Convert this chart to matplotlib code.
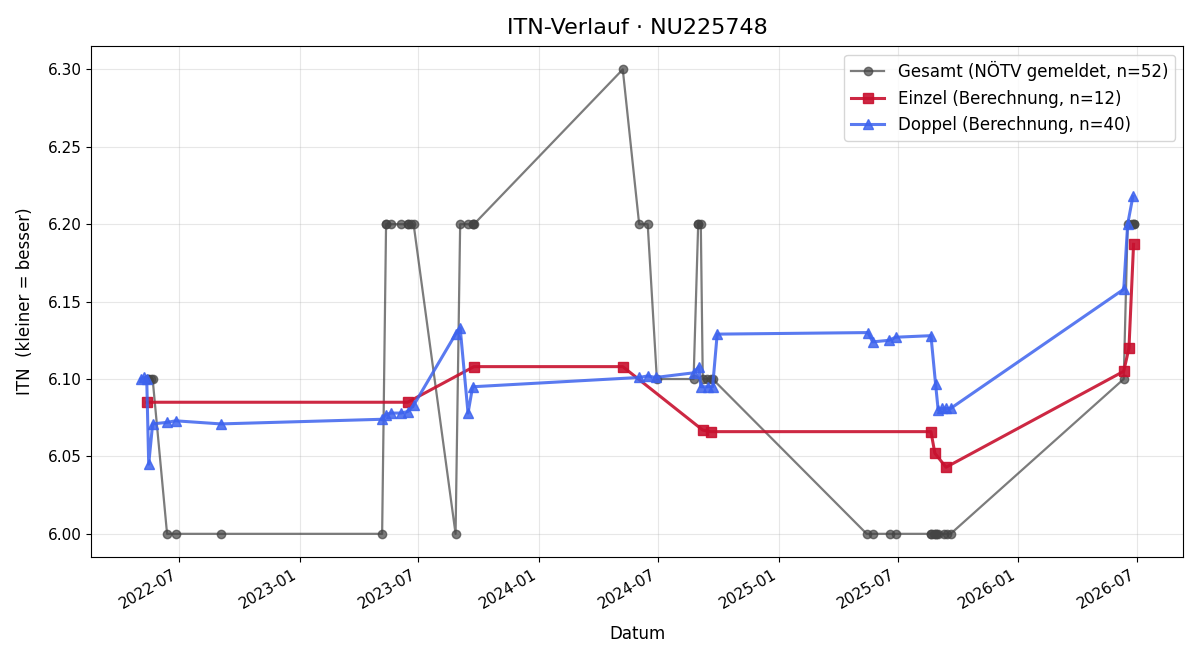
import pandas as pd
import matplotlib.pyplot as plt
import matplotlib.dates as mdates

# Gesamt (gemeldet)
gesamt_dates = [
    "2022-05-15", "2022-05-15", "2022-05-19", "2022-05-22", "2022-06-13", "2022-06-26",
    "2022-09-03", "2023-05-07", "2023-05-13", "2023-05-13", "2023-05-20", "2023-06-05",
    "2023-06-15", "2023-06-15", "2023-06-20", "2023-06-24", "2023-08-27", "2023-09-03",
    "2023-09-15", "2023-09-22", "2023-09-22", "2023-09-24", "2024-05-08", "2024-06-02",
    "2024-06-15", "2024-06-29", "2024-08-24", "2024-08-31", "2024-08-31", "2024-09-04",
    "2024-09-07", "2024-09-13", "2024-09-19", "2024-09-22", "2025-05-15", "2025-05-24",
    "2025-06-19", "2025-06-28", "2025-08-21", "2025-08-21", "2025-08-25", "2025-08-28",
    "2025-08-28", "2025-09-01", "2025-09-10", "2025-09-14", "2025-09-20", "2026-06-11",
    "2026-06-17", "2026-06-23", "2026-06-26", "2026-06-26",
]
gesamt_itn = [
    6.10, 6.10, 6.10, 6.10, 6.00, 6.00,
    6.00, 6.00, 6.20, 6.20, 6.20, 6.20,
    6.20, 6.20, 6.20, 6.20, 6.00, 6.20,
    6.20, 6.20, 6.20, 6.20, 6.30, 6.20,
    6.20, 6.10, 6.10, 6.20, 6.20, 6.20,
    6.10, 6.10, 6.10, 6.10, 6.00, 6.00,
    6.00, 6.00, 6.00, 6.00, 6.00, 6.00,
    6.00, 6.00, 6.00, 6.00, 6.00, 6.10,
    6.20, 6.20, 6.20, 6.20,
]

# Einzel (Berechnung)
einzel_dates = [
    "2022-05-13", "2023-06-15", "2023-09-24", "2024-05-08", "2024-09-07", "2024-09-19",
    "2025-08-21", "2025-08-27", "2025-09-13", "2026-06-11", "2026-06-19", "2026-06-26",
]
einzel_itn = [6.085, 6.085, 6.108, 6.108, 6.067, 6.066, 6.066, 6.052, 6.043, 6.105, 6.120, 6.187]

# Doppel (Berechnung)
doppel_dates = [
    "2022-05-04", "2022-05-09", "2022-05-13", "2022-05-16", "2022-05-22", "2022-06-13",
    "2022-06-26", "2022-09-03", "2023-05-07", "2023-05-13", "2023-05-20", "2023-06-05",
    "2023-06-15", "2023-06-24", "2023-08-27", "2023-09-03", "2023-09-15", "2023-09-22",
    "2024-06-02", "2024-06-15", "2024-06-27", "2024-08-24", "2024-09-01", "2024-09-04",
    "2024-09-15", "2024-09-22", "2024-09-29", "2025-05-17", "2025-05-24", "2025-06-18",
    "2025-06-28", "2025-08-21", "2025-08-28", "2025-09-01", "2025-09-07", "2025-09-13",
    "2025-09-20", "2026-06-11", "2026-06-17", "2026-06-25",
]
doppel_itn = [
    6.100, 6.101, 6.100, 6.045, 6.071, 6.072,
    6.073, 6.071, 6.074, 6.077, 6.078, 6.078,
    6.079, 6.083, 6.129, 6.133, 6.078, 6.095,
    6.101, 6.102, 6.101, 6.104, 6.108, 6.095,
    6.095, 6.095, 6.129, 6.130, 6.124, 6.125,
    6.127, 6.128, 6.097, 6.080, 6.081, 6.081,
    6.081, 6.158, 6.200, 6.218,
]

g_x = pd.to_datetime(gesamt_dates)
e_x = pd.to_datetime(einzel_dates)
d_x = pd.to_datetime(doppel_dates)

fig, ax = plt.subplots(figsize=(12, 6.6), dpi=100)

ax.plot(g_x, gesamt_itn, color='#444444', marker='o', markersize=6, linewidth=1.6, alpha=0.7,
        label=f'Gesamt (NÖTV gemeldet, n={len(gesamt_itn)})')
ax.plot(e_x, einzel_itn, color='#C8102E', marker='s', markersize=7, linewidth=2.2, alpha=0.9,
        label=f'Einzel (Berechnung, n={len(einzel_itn)})')
ax.plot(d_x, doppel_itn, color='#3D63EE', marker='^', markersize=7, linewidth=2.2, alpha=0.85,
        label=f'Doppel (Berechnung, n={len(doppel_itn)})')

ax.set_title('ITN-Verlauf · NU225748', fontsize=16, pad=9)
ax.set_xlabel('Datum', fontsize=12, labelpad=10)
ax.set_ylabel('ITN  (kleiner = besser)', fontsize=12, labelpad=10)
ax.tick_params(labelsize=11)
ax.grid(True, alpha=0.3)
ax.legend(loc='upper right', fontsize=12)

ax.xaxis.set_major_locator(mdates.MonthLocator(bymonth=[1, 7]))
ax.xaxis.set_major_formatter(mdates.DateFormatter('%Y-%m'))
fig.autofmt_xdate()

fig.subplots_adjust(left=0.076, right=0.986, top=0.930, bottom=0.156)
plt.savefig('out.png', dpi=100)
